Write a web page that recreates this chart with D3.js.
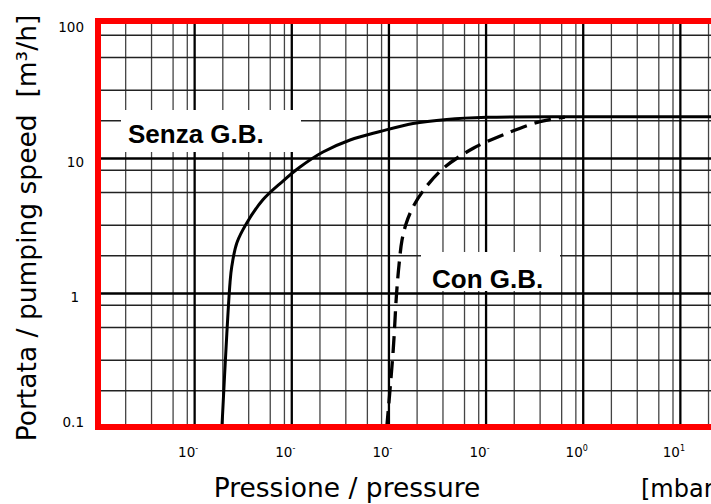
<!DOCTYPE html>
<html>
<head>
<meta charset="utf-8">
<script src="https://cdn.jsdelivr.net/npm/d3@7"></script>
<style>
  body { margin: 0; background: #fff; }
  svg { display: block; }
</style>
</head>
<body>
<div id="chart"></div>
<script>
// tick values / labels
const pressureTicks = [1e-4, 1e-3, 1e-2, 1e-1, 1, 10];
const pressureExp = ["-", "-", "-", "-", "0", "1"];
const speedTicks = [0.1, 1, 10, 100];
const speedLabels = ["0.1", "1", "10", "100"];

// the printed log paper has 4 fine lines inside each decade
const xMinorMult = [1.95, 3.6, 6.0, 8.4];
const yMinorMult = [1.9, 3.2, 5.6, 8.2];

// Senza G.B. (solid)
const senzaP = [1.93e-4, 2.17e-4, 2.34e-4, 2.44e-4, 2.75e-4, 3.48e-4, 5.1e-4, 8.0e-4, 1.23e-3, 2.12e-3, 4.03e-3, 8.2e-3, 0.0179, 0.0398, 0.103, 0.935, 25];
const senzaS = [0.1, 0.5, 1.19, 1.57, 2.35, 3.3, 4.9, 6.64, 8.57, 11.07, 13.6, 15.7, 18.0, 19.3, 20.0, 20.2, 20.2];

// Con G.B. (dashed)
const conP = [9.6e-3, 0.0112, 0.0121, 0.01285, 0.0138, 0.01517, 0.0175, 0.0227, 0.0365, 0.0747, 0.165, 0.363, 0.656];
const conS = [0.1, 0.378, 0.97, 1.61, 2.47, 3.24, 4.19, 5.7, 8.35, 11.8, 15.2, 18.6, 20.1];

const width = 711, height = 504;
const frame = {left: 98, top: 21, bottom: 427, right: 790};

const x = d3.scaleLog().domain([1e-5, 100]).range([97, 777]);
const y = d3.scaleLog().domain([0.1, 100]).range([428, 23]);

const svg = d3.select("#chart").append("svg")
    .attr("width", width)
    .attr("height", height)
    .attr("viewBox", [0, 0, width, height]);

const xMinor = d3.range(-5, 2).flatMap(d => xMinorMult.map(m => m * Math.pow(10, d)));
const xMajor = d3.range(-4, 3).map(d => Math.pow(10, d));
const yMinor = d3.range(-1, 2).flatMap(d => yMinorMult.map(m => m * Math.pow(10, d)));
const yMajor = [1, 10];

// grid
function vGrid(values, color, w) {
    return g => g.attr("transform", `translate(0,${frame.bottom})`)
        .call(d3.axisBottom(x).tickValues(values).tickSize(-(frame.bottom - frame.top)).tickFormat(""))
        .call(g => g.select(".domain").remove())
        .call(g => g.selectAll(".tick line").attr("stroke", color).attr("stroke-width", w));
}
function hGrid(values, color, w) {
    return g => g.attr("transform", `translate(${frame.left},0)`)
        .call(d3.axisLeft(y).tickValues(values).tickSize(-(frame.right - frame.left)).tickFormat(""))
        .call(g => g.select(".domain").remove())
        .call(g => g.selectAll(".tick line").attr("stroke", color).attr("stroke-width", w));
}

svg.append("g").call(vGrid(xMinor, "#444", 1.3));
svg.append("g").call(hGrid(yMinor, "#222", 1.5));
svg.append("g").call(vGrid(xMajor, "#000", 2.3));
svg.append("g").call(hGrid(yMajor, "#000", 2.3));

// label boxes hide the grid
svg.append("rect").attr("x", 121).attr("y", 110).attr("width", 180).attr("height", 42).attr("fill", "#fff");
svg.append("rect").attr("x", 421).attr("y", 252).attr("width", 139).attr("height", 39).attr("fill", "#fff");

svg.append("text")
    .attr("x", 128).attr("y", 143)
    .attr("font-family", "Liberation Sans, Arial, sans-serif")
    .attr("font-weight", "bold").attr("font-size", 26)
    .text("Senza G.B.");
svg.append("text")
    .attr("x", 432).attr("y", 288)
    .attr("font-family", "Liberation Sans, Arial, sans-serif")
    .attr("font-weight", "bold").attr("font-size", 26)
    .text("Con G.B.");

// curves
const line = d3.line()
    .x(d => x(d[0]))
    .y(d => y(d[1]))
    .curve(d3.curveCatmullRom.alpha(0.5));

svg.append("path")
    .datum(d3.zip(senzaP, senzaS))
    .attr("fill", "none")
    .attr("stroke", "#000")
    .attr("stroke-width", 3)
    .attr("d", line);

svg.append("path")
    .datum(d3.zip(conP, conS))
    .attr("fill", "none")
    .attr("stroke", "#000")
    .attr("stroke-width", 3.3)
    .attr("stroke-dasharray", "17,8")
    .attr("d", line);

// red frame
svg.append("rect")
    .attr("x", frame.left).attr("y", frame.top)
    .attr("width", frame.right - frame.left)
    .attr("height", frame.bottom - frame.top)
    .attr("fill", "none")
    .attr("stroke", "#ff0000")
    .attr("stroke-width", 6);

// tick labels
const tickFont = "DejaVu Sans, Verdana, sans-serif";

svg.append("g")
    .attr("font-family", tickFont).attr("font-size", 13.5)
    .selectAll("text")
    .data(speedTicks)
    .join("text")
        .attr("x", d => d === 1 ? 79 : 84)
        .attr("y", d => Math.min(y(d) + 4, 422) + 5)
        .attr("text-anchor", "end")
        .text((d, i) => speedLabels[i]);

const xl = svg.append("g")
    .attr("font-family", tickFont).attr("font-size", 13.5)
    .selectAll("text")
    .data(pressureTicks)
    .join("text")
        .attr("x", d => x(d) - 6)
        .attr("y", 457)
        .attr("text-anchor", "middle");
xl.append("tspan").text("10");
xl.append("tspan").attr("dy", -6).attr("font-size", 8).text((d, i) => pressureExp[i]);

// axis titles
svg.append("text")
    .attr("transform", "translate(36,228) rotate(-90)")
    .attr("text-anchor", "middle")
    .attr("font-family", tickFont).attr("font-size", 26.5)
    .style("white-space", "pre")
    .text("Portata / pumping speed  [m³/h]");

svg.append("text")
    .attr("x", 347).attr("y", 497)
    .attr("text-anchor", "middle")
    .attr("font-family", tickFont).attr("font-size", 26.5)
    .text("Pressione / pressure");

svg.append("text")
    .attr("x", 641).attr("y", 497)
    .attr("font-family", tickFont).attr("font-size", 24)
    .text("[mbar]");
</script>
</body>
</html>
